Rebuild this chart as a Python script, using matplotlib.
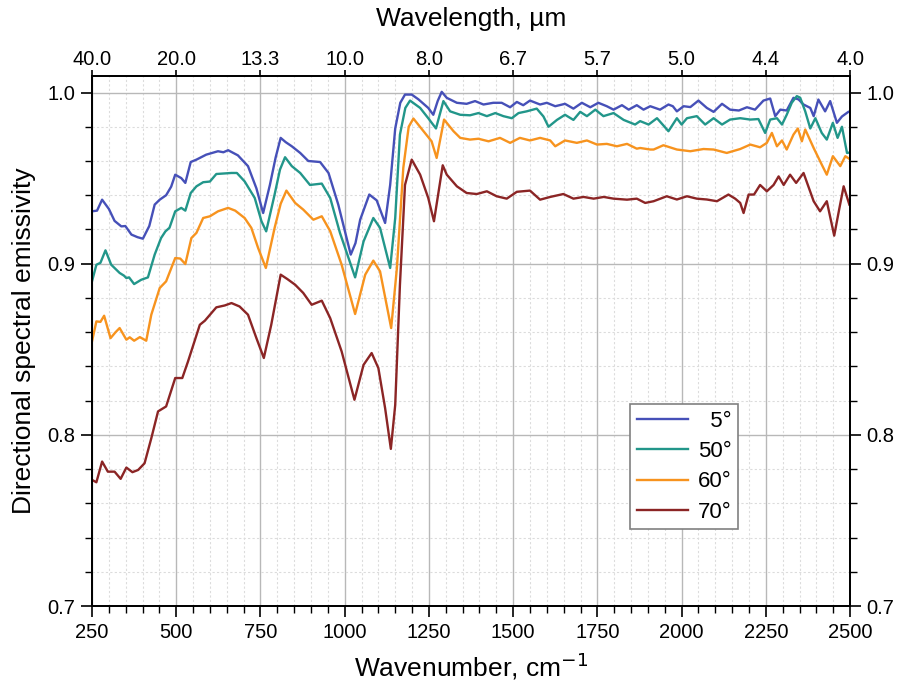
import matplotlib
matplotlib.use("Agg")
import matplotlib.pyplot as plt
from matplotlib.ticker import MultipleLocator, FixedLocator, FixedFormatter

plt.rcParams['font.family'] = ['Liberation Sans', 'DejaVu Sans']

# ---- data ----
wn_5 = [250, 265, 280, 300, 317, 337, 349, 367, 385, 401, 420, 436, 451, 470, 485, 497, 515, 527, 543, 560,
        589, 624, 640, 654, 683, 713, 738, 758, 778, 795, 810, 825, 843, 868, 892, 927, 952, 981, 1018, 1032,
        1046, 1073, 1095, 1120, 1135, 1150, 1165, 1179, 1199, 1219, 1248, 1263, 1276, 1288, 1303, 1333, 1362,
        1387, 1412, 1441, 1466, 1491, 1511, 1530, 1550, 1580, 1600, 1625, 1654, 1679, 1704, 1729, 1753, 1778,
        1798, 1823, 1843, 1867, 1887, 1907, 1936, 1961, 1974, 1986, 2006, 2026, 2050, 2075, 2095, 2120, 2144,
        2170, 2194, 2218, 2243, 2263, 2278, 2293, 2312, 2332, 2347, 2362, 2382, 2392, 2406, 2426, 2441, 2461,
        2476, 2495, 2500]
em_5 = [0.9306, 0.931, 0.9374, 0.932, 0.925, 0.9218, 0.922, 0.917, 0.9155, 0.9146, 0.922, 0.9345, 0.9374,
        0.940, 0.945, 0.952, 0.950, 0.9472, 0.9594, 0.9608, 0.9637, 0.9657, 0.9651, 0.9663, 0.9633, 0.957,
        0.944, 0.9296, 0.946, 0.962, 0.9735, 0.971, 0.9686, 0.9647, 0.960, 0.9594, 0.953, 0.9345, 0.9053,
        0.912, 0.9257, 0.9404, 0.937, 0.9238, 0.946, 0.979, 0.994, 0.9988, 0.9988, 0.996, 0.991, 0.987,
        0.995, 1.0004, 0.9969, 0.994, 0.9934, 0.995, 0.993, 0.994, 0.994, 0.9914, 0.9945, 0.9926, 0.9953,
        0.993, 0.994, 0.992, 0.9934, 0.9906, 0.994, 0.9914, 0.994, 0.992, 0.990, 0.9926, 0.990, 0.9926,
        0.990, 0.992, 0.990, 0.993, 0.992, 0.989, 0.992, 0.9915, 0.9953, 0.991, 0.9887, 0.9934, 0.990,
        0.9895, 0.9914, 0.990, 0.9953, 0.9965, 0.9862, 0.990, 0.9895, 0.9969, 0.996, 0.993, 0.991, 0.9862,
        0.9959, 0.989, 0.995, 0.9823, 0.986, 0.9887, 0.989]

wn_50 = [250, 263, 275, 290, 307, 332, 345, 352, 360, 375, 396, 416, 436, 455, 468, 480, 497, 515, 527, 543,
         560, 580, 600, 619, 664, 680, 703, 733, 753, 767, 792, 808, 823, 843, 868, 897, 932, 957, 986, 1031,
         1056, 1085, 1105, 1135, 1150, 1164, 1180, 1194, 1224, 1248, 1271, 1293, 1313, 1343, 1372, 1397, 1422,
         1447, 1471, 1496, 1516, 1540, 1570, 1590, 1605, 1630, 1654, 1679, 1699, 1719, 1744, 1768, 1798, 1828,
         1862, 1877, 1902, 1927, 1945, 1961, 1986, 2000, 2016, 2045, 2070, 2095, 2120, 2144, 2174, 2204, 2228,
         2248, 2263, 2283, 2298, 2312, 2327, 2342, 2352, 2367, 2382, 2397, 2416, 2431, 2449, 2463, 2476, 2491,
         2500]
em_50 = [0.8897, 0.8994, 0.9005, 0.9078, 0.8994, 0.8946, 0.893, 0.8916, 0.892, 0.8881, 0.8906, 0.892, 0.9053,
         0.915, 0.9189, 0.921, 0.9306, 0.9326, 0.931, 0.9413, 0.9452, 0.9476, 0.948, 0.9524, 0.953, 0.953,
         0.9481, 0.9384, 0.9248, 0.9189, 0.9404, 0.955, 0.9622, 0.957, 0.953, 0.946, 0.9468, 0.9384, 0.918,
         0.892, 0.913, 0.9267, 0.9209, 0.8975, 0.9267, 0.9754, 0.991, 0.9953, 0.991, 0.985, 0.979, 0.995,
         0.989, 0.987, 0.9867, 0.988, 0.9862, 0.988, 0.9862, 0.985, 0.988, 0.989, 0.9906, 0.986, 0.980, 0.984,
         0.987, 0.984, 0.9887, 0.9862, 0.990, 0.9862, 0.988, 0.984, 0.9813, 0.9833, 0.9813, 0.985, 0.981,
         0.9774, 0.985, 0.9813, 0.985, 0.9862, 0.9813, 0.985, 0.9813, 0.9842, 0.985, 0.9842, 0.9845, 0.9764,
         0.9842, 0.985, 0.9813, 0.987, 0.994, 0.9979, 0.997, 0.989, 0.979, 0.985, 0.9764, 0.9725, 0.9823,
         0.9735, 0.980, 0.9647, 0.965]

wn_60 = [250, 263, 275, 286, 305, 320, 332, 352, 362, 375, 392, 411, 426, 451, 470, 497, 512, 527, 545, 560,
         580, 600, 624, 654, 675, 703, 723, 743, 766, 792, 810, 827, 853, 877, 907, 932, 957, 991, 1031, 1061,
         1085, 1105, 1138, 1155, 1174, 1190, 1204, 1234, 1258, 1273, 1295, 1323, 1343, 1372, 1397, 1427, 1461,
         1491, 1520, 1550, 1580, 1610, 1625, 1654, 1689, 1719, 1749, 1778, 1808, 1838, 1867, 1877, 1907, 1917,
         1946, 1986, 2026, 2065, 2095, 2134, 2174, 2204, 2233, 2253, 2268, 2283, 2298, 2312, 2332, 2345, 2357,
         2367, 2392, 2416, 2431, 2449, 2471, 2486, 2500]
em_60 = [0.8546, 0.8663, 0.866, 0.8696, 0.8565, 0.860, 0.8624, 0.8556, 0.857, 0.855, 0.8571, 0.855, 0.8702,
         0.8858, 0.8897, 0.9033, 0.903, 0.8998, 0.915, 0.918, 0.9267, 0.9277, 0.9306, 0.9326, 0.931, 0.9267,
         0.9209, 0.9092, 0.8975, 0.9209, 0.935, 0.9427, 0.9355, 0.9316, 0.9257, 0.9277, 0.919, 0.8994, 0.8706,
         0.8936, 0.9018, 0.8955, 0.8624, 0.8975, 0.956, 0.980, 0.9848, 0.9774, 0.9715, 0.9618, 0.9842, 0.9774,
         0.9735, 0.9725, 0.973, 0.9715, 0.9735, 0.9706, 0.9735, 0.972, 0.9735, 0.972, 0.9686, 0.972, 0.9706,
         0.972, 0.9696, 0.970, 0.9686, 0.970, 0.9672, 0.9676, 0.9667, 0.9667, 0.9692, 0.9667, 0.9657, 0.967,
         0.9667, 0.9647, 0.967, 0.9696, 0.968, 0.9706, 0.9764, 0.9686, 0.972, 0.9667, 0.9754, 0.979, 0.9715,
         0.9784, 0.9676, 0.9579, 0.952, 0.9628, 0.957, 0.9628, 0.961]

wn_70 = [250, 263, 280, 297, 317, 335, 352, 370, 387, 406, 426, 446, 470, 497, 518, 535, 570, 585, 619, 644,
         664, 688, 713, 738, 760, 782, 810, 830, 853, 877, 902, 932, 957, 991, 1029, 1056, 1080, 1100, 1120,
         1137, 1150, 1164, 1179, 1199, 1224, 1248, 1265, 1291, 1303, 1333, 1362, 1392, 1422, 1451, 1481, 1511,
         1550, 1580, 1610, 1649, 1679, 1709, 1739, 1769, 1798, 1838, 1867, 1892, 1917, 1956, 1986, 2016, 2045,
         2075, 2105, 2139, 2159, 2174, 2184, 2199, 2215, 2233, 2253, 2273, 2288, 2303, 2322, 2340, 2362, 2392,
         2411, 2431, 2453, 2468, 2481, 2498]
em_70 = [0.7737, 0.7723, 0.7844, 0.7785, 0.7785, 0.7743, 0.7809, 0.7782, 0.7795, 0.7834, 0.798, 0.8137,
         0.8166, 0.8332, 0.8332, 0.8429, 0.8643, 0.8667, 0.8745, 0.8756, 0.877, 0.875, 0.8702, 0.8565, 0.8449,
         0.8643, 0.8936, 0.891, 0.8877, 0.8829, 0.876, 0.8784, 0.8682, 0.8487, 0.8205, 0.8409, 0.8478, 0.839,
         0.8156, 0.7918, 0.8175, 0.8877, 0.946, 0.9608, 0.952, 0.9384, 0.9248, 0.9575, 0.952, 0.9452, 0.9413,
         0.9407, 0.9423, 0.9394, 0.938, 0.942, 0.9427, 0.9374, 0.939, 0.9407, 0.938, 0.939, 0.938, 0.939,
         0.938, 0.9374, 0.938, 0.9355, 0.9365, 0.9394, 0.9375, 0.9394, 0.938, 0.9375, 0.9365, 0.9404, 0.938,
         0.9355, 0.9296, 0.9404, 0.9404, 0.946, 0.9423, 0.946, 0.951, 0.946, 0.952, 0.9472, 0.953, 0.9365,
         0.9306, 0.9365, 0.9164, 0.932, 0.9452, 0.9345]

labels = ["  5°", "50°", "60°", "70°"]
colors = ["#4650B8", "#22968A", "#F7931E", "#8B2525"]

x_ticks = [250, 500, 750, 1000, 1250, 1500, 1750, 2000, 2250, 2500]
y_ticks = [0.7, 0.8, 0.9, 1.0]
top_labels = ["%.1f" % (1e4 / w) for w in x_ticks]

# ---- figure ----
fig = plt.figure(figsize=(9.02, 6.84), dpi=100)
ax = fig.add_axes([0.102, 0.114, 0.8404, 0.775])

series = [(wn_5, em_5), (wn_50, em_50), (wn_60, em_60), (wn_70, em_70)]
for (x, y), lab, c in zip(series, labels, colors):
    ax.plot(x, y, color=c, lw=1.7, label=lab, solid_joinstyle='round')

ax.set_xlim(250, 2500)
ax.set_ylim(0.7, 1.0097)
ax.xaxis.set_major_locator(FixedLocator(x_ticks))
ax.xaxis.set_minor_locator(MultipleLocator(50))
ax.yaxis.set_major_locator(FixedLocator(y_ticks))
ax.yaxis.set_minor_locator(MultipleLocator(0.02))
ax.yaxis.set_major_formatter(FixedFormatter(["0.7", "0.8", "0.9", "1.0"]))

ax.grid(which='major', color='#b8b8b8', lw=1.0, ls='-')
ax.grid(which='minor', color='#dcdcdc', lw=0.8, ls=(0, (2, 2)))
ax.set_axisbelow(True)

ax.tick_params(axis='both', which='major', direction='out', length=8, width=1.2, labelsize=14.5, pad=4)
ax.tick_params(axis='both', which='minor', direction='out', length=5, width=1.0)
ax.tick_params(axis='y', which='both', right=True, labelright=True)
for s in ax.spines.values():
    s.set_linewidth(1.3)

ax.set_xlabel("Wavenumber, cm$^{-1}$", fontsize=19, labelpad=6)
ax.set_ylabel("Directional spectral emissivity", fontsize=19, labelpad=8)

ax2 = ax.twiny()
ax2.set_xlim(ax.get_xlim())
ax2.xaxis.set_major_locator(FixedLocator(x_ticks))
ax2.xaxis.set_major_formatter(FixedFormatter(top_labels))
ax2.tick_params(axis='x', which='major', direction='out', length=4, width=1.2, labelsize=14.5, pad=1)
ax2.set_xlabel("Wavelength, µm", fontsize=19, labelpad=17)
for s in ax2.spines.values():
    s.set_linewidth(1.3)

leg = ax.legend(loc='upper left', bbox_to_anchor=(0.71, 0.381), borderaxespad=0,
                fontsize=16, frameon=True, fancybox=False, framealpha=1, edgecolor='#808080',
                handlelength=2.3, handletextpad=0.45, labelspacing=0.42, borderpad=0.3)
leg.get_frame().set_linewidth(1.2)

fig.savefig("out.png", dpi=100)
